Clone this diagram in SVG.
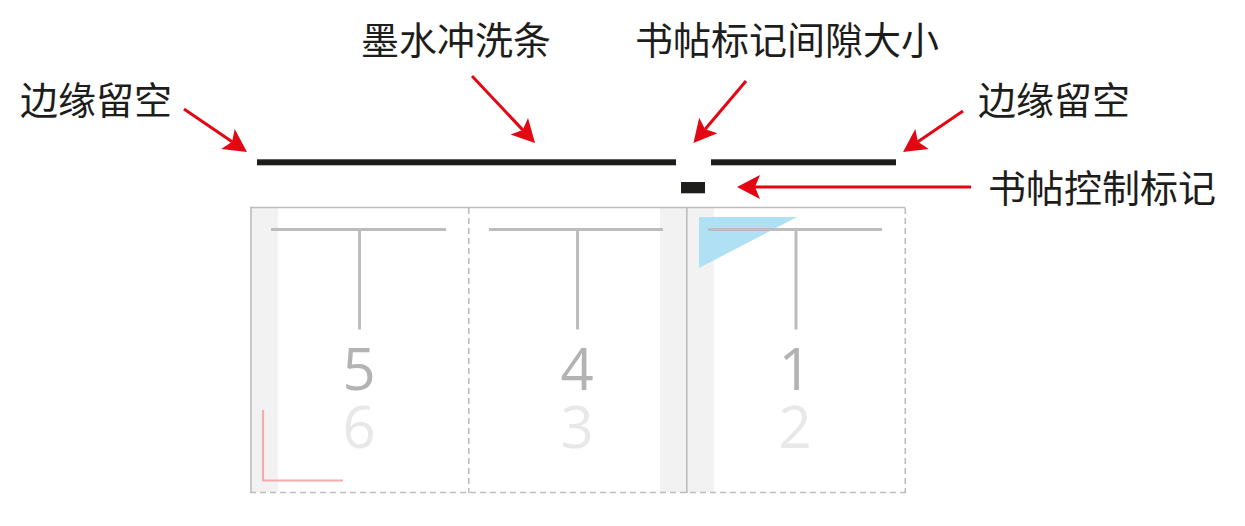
<svg xmlns="http://www.w3.org/2000/svg" width="1245" height="526" viewBox="0 0 1245 526">
  <style>
    .label { font-family: "Noto Sans CJK SC", "Noto Sans", sans-serif; font-size: 38px; fill: #1d1d1b; }
    .num { font-family: "Open Sans", "Liberation Sans", sans-serif; font-size: 58px; text-anchor: middle; }
    .top { fill: #b3b3b3; }
    .bot { fill: #e8e8e8; }
    .strip { fill: #f2f2f2; }
    .frame { stroke: #bdbdbd; stroke-width: 1.6; fill: none; }
    .dash { stroke: #bdbdbd; stroke-width: 1.6; fill: none; stroke-dasharray: 6 4; }
    .tee { stroke: #bdbdbd; stroke-width: 3; fill: none; }
    .arrow { stroke: #e30613; stroke-width: 3; fill: none; marker-end: url(#ah); }
    .bar { fill: #1d1d1b; }
  </style>
  <defs>
    <marker id="ah" markerUnits="userSpaceOnUse" markerWidth="30" markerHeight="30" refX="0" refY="0" orient="auto" overflow="visible">
      <path d="M18,0 L-5,-12 L0,0 L-5,12 Z" fill="#e30613"/>
    </marker>
  </defs>

  <g id="sheet">
    <rect class="strip" x="251" y="208" width="27" height="284"/>
    <rect class="strip" x="660" y="208" width="26" height="284"/>
    <rect class="strip" x="687" y="208" width="27" height="284"/>
    <polygon points="699,217 797,217 699,268" fill="#b0e0f4"/>
    <line class="frame" x1="250" y1="207.5" x2="905.5" y2="207.5"/>
    <line class="frame" x1="251" y1="207" x2="251" y2="493"/>
    <line class="frame" x1="686.8" y1="207" x2="686.8" y2="493"/>
    <line class="dash" x1="468.8" y1="208" x2="468.8" y2="493"/>
    <line class="dash" x1="905.3" y1="208" x2="905.3" y2="493"/>
    <line class="dash" x1="250" y1="492.5" x2="906" y2="492.5"/>
  </g>

  <g id="page-5-6">
    <path class="tee" d="M271,229.5 H446 M359.5,229.5 V329.5"/>
    <text class="num top" x="359" y="390">5</text>
    <text class="num bot" x="359" y="448">6</text>
    <path d="M263,410 V480.5 H343" stroke="#f5abab" stroke-width="2.2" fill="none"/>
  </g>

  <g id="page-4-3">
    <path class="tee" d="M489,229.5 H663 M577.5,229.5 V329.5"/>
    <text class="num top" x="577" y="390">4</text>
    <text class="num bot" x="577" y="448">3</text>
  </g>

  <g id="page-1-2">
    <path class="tee" d="M708,229.5 H882 M796,229.5 V329.5"/>
    <text class="num top" x="795" y="390">1</text>
    <text class="num bot" x="795" y="448">2</text>
  </g>

  <g id="ink-bars">
    <rect class="bar" x="257" y="159.3" width="419" height="6"/>
    <rect class="bar" x="711" y="159.3" width="185" height="6"/>
    <rect class="bar" x="681" y="182" width="24" height="11.3"/>
  </g>

  <g id="labels">
    <text class="label" x="20" y="114">边缘留空</text>
    <text class="label" x="361" y="54">墨水冲洗条</text>
    <text class="label" x="635" y="54">书帖标记间隙大小</text>
    <text class="label" x="978" y="114">边缘留空</text>
    <text class="label" x="988" y="202">书帖控制标记</text>
  </g>

  <g id="connectors">
    <line class="arrow" x1="184" y1="109" x2="232.1" y2="141.8"/>
    <line class="arrow" x1="472" y1="76" x2="522.7" y2="129.9"/>
    <line class="arrow" x1="746" y1="81" x2="705.1" y2="129.3"/>
    <line class="arrow" x1="963" y1="111" x2="917.9" y2="141.8"/>
    <line class="arrow" x1="971" y1="187" x2="755" y2="187"/>
  </g>
</svg>
